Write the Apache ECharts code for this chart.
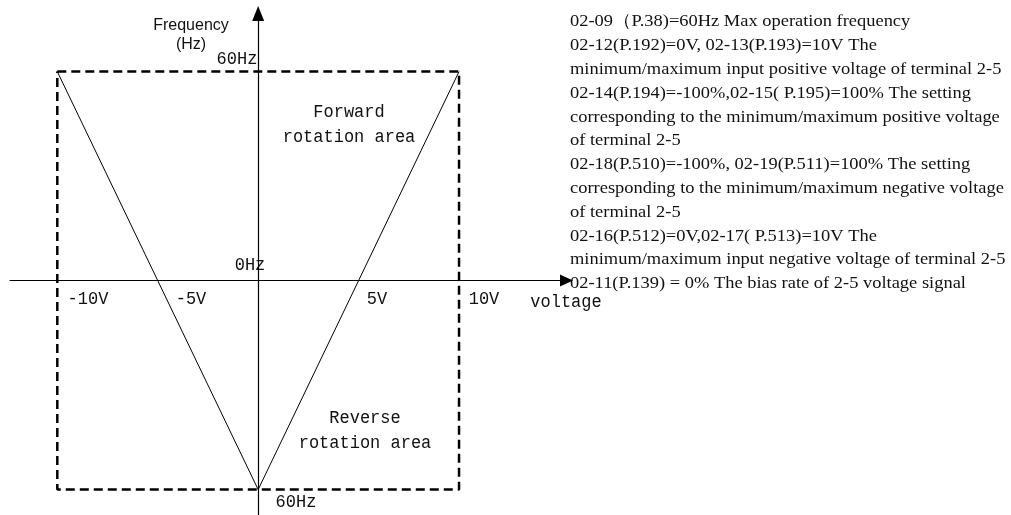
<!DOCTYPE html>
<html>
<head>
<meta charset="utf-8">
<script src="https://cdn.jsdelivr.net/npm/echarts@6/dist/echarts.min.js"></script>
<style>
html,body{margin:0;padding:0;background:#fff;}
#chart{width:1011px;height:515px;}
</style>
</head>
<body>
<div id="chart"></div>
<script>
// ---- data ----
var boxPoints = [[-10, 60], [10, 60], [10, -60], [-10, -60], [-10, 60]]; // dashed range box (V, Hz)
var curvePoints = [[-10, 60], [0, -60], [10, 60]];                       // frequency vs voltage
var xTickLabels = ['-10V', '-5V', '5V', '10V'];
var yTickLabels = ['60Hz', '0Hz', '60Hz'];
var notes = [
  '02-09（P.38)=60Hz Max operation frequency',
  '02-12(P.192)=0V, 02-13(P.193)=10V The',
  'minimum/maximum input positive voltage of terminal 2-5',
  '02-14(P.194)=-100%,02-15( P.195)=100% The setting',
  'corresponding to the minimum/maximum positive voltage',
  'of terminal 2-5',
  '02-18(P.510)=-100%, 02-19(P.511)=100% The setting',
  'corresponding to the minimum/maximum negative voltage',
  'of terminal 2-5',
  '02-16(P.512)=0V,02-17( P.513)=10V The',
  'minimum/maximum input negative voltage of terminal 2-5',
  '02-11(P.139) = 0% The bias rate of 2-5 voltage signal'
];

var mono = '"Liberation Mono", "DejaVu Sans Mono", monospace';
var serif = '"Liberation Serif", "DejaVu Serif", serif';
var sans = '"Liberation Sans", Arial, sans-serif';

function txt(text, x, y, font, size, align, sx, sy) {
  return {
    type: 'text', x: x, y: y, silent: true, scaleX: sx || 1, scaleY: sy || 1,
    style: { text: text, fill: '#111', font: size + 'px ' + font,
             textAlign: align || 'center', textVerticalAlign: 'middle' }
  };
}

var graphics = [
  txt('Frequency', 191, 26, sans, 16),
  txt('(Hz)', 191, 45, sans, 16),
  txt(yTickLabels[0], 237, 59, mono, 17, 'center', 1, 1.12),
  txt(yTickLabels[1], 250, 265, mono, 17, 'center', 1, 1.12),
  txt(yTickLabels[2], 296, 502, mono, 17, 'center', 1, 1.12),
  txt(xTickLabels[0], 88, 299, mono, 17, 'center', 1, 1.12),
  txt(xTickLabels[1], 191, 299, mono, 17, 'center', 1, 1.12),
  txt(xTickLabels[2], 377, 299, mono, 17, 'center', 1, 1.12),
  txt(xTickLabels[3], 484, 299, mono, 17, 'center', 1, 1.12),
  txt('voltage', 566, 302, mono, 17, 'center', 1, 1.12),
  txt('Forward', 349, 112, mono, 17, 'center', 1, 1.12),
  txt('rotation area', 349, 137, mono, 17, 'center', 1, 1.12),
  txt('Reverse', 365, 418, mono, 17, 'center', 1, 1.12),
  txt('rotation area', 365, 443, mono, 17, 'center', 1, 1.12)
];
for (var i = 0; i < notes.length; i++) {
  graphics.push(txt(notes[i], 570, 22 + i * 23.8, serif, 17, 'left', 1.085, 1));
}

var chart = echarts.init(document.getElementById('chart'), null, {renderer: 'canvas'});
chart.setOption({
  animation: false,
  backgroundColor: '#fff',
  grid: { left: 10, right: 444.5, top: 13.5, bottom: 0, containLabel: false },
  xAxis: {
    type: 'value', min: -12.355, max: 15.35,
    axisLine: { show: true, onZero: true, symbol: ['none', 'triangle'], symbolSize: [12, 13],
                lineStyle: { color: '#000', width: 1.2 } },
    axisTick: { show: false }, axisLabel: { show: false }, splitLine: { show: false }
  },
  yAxis: {
    type: 'value', min: -67.3, max: 76.67,
    axisLine: { show: true, onZero: true, symbol: ['none', 'triangle'], symbolSize: [12, 15],
                lineStyle: { color: '#000', width: 1.2 } },
    axisTick: { show: false }, axisLabel: { show: false }, splitLine: { show: false }
  },
  series: [
    {
      type: 'line', data: boxPoints, symbol: 'none', silent: true,
      lineStyle: { color: '#000', width: 2.5, type: [9, 5] }
    },
    {
      type: 'line', data: curvePoints, symbol: 'none', silent: true,
      lineStyle: { color: '#000', width: 1 }
    }
  ],
  graphic: graphics
});
</script>
</body>
</html>
